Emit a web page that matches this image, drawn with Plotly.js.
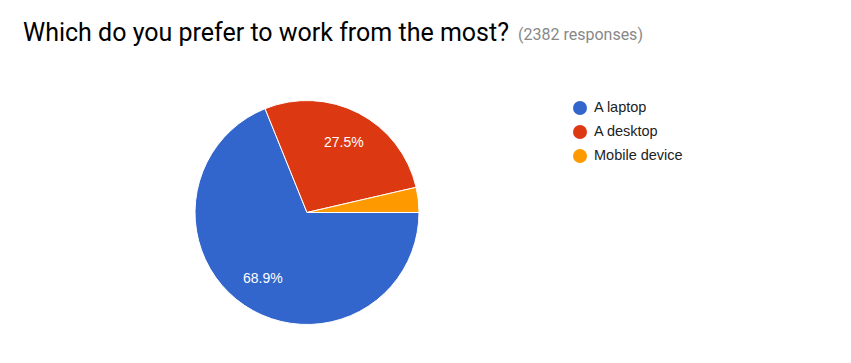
<!DOCTYPE html>
<html>
<head>
<meta charset="utf-8">
<script src="https://cdn.plot.ly/plotly-3.0.1.min.js"></script>
<style>
  html, body { margin: 0; padding: 0; background: #fff; }
  #chart { width: 851px; height: 363px; }
</style>
</head>
<body>
<div id="chart"></div>
<script>
// Survey answers: which device people prefer to work from
const categories = ['A laptop', 'A desktop', 'Mobile device'];
const responses = [1641, 655, 86];
const colors = ['#3366cc', '#dc3912', '#ff9900'];
const question = 'Which do you prefer to work from the most?';
const totalLabel = '(2382 responses)';

const W = 851, H = 363;
// Pie placement in pixels (centre and radius)
const CX = 307, CY = 212.5, R = 112;
// Slices below this share carry no percent label
const MIN_LABEL_SHARE = 0.05;

const total = responses.reduce((a, b) => a + b, 0);

const pie = {
  type: 'pie',
  labels: categories,
  values: responses,
  sort: false,
  direction: 'clockwise',
  rotation: 90,
  marker: { colors: colors, line: { color: '#ffffff', width: 1 } },
  textinfo: 'none',
  hoverinfo: 'label+percent',
  showlegend: false,
  domain: { x: [(CX - R) / W, (CX + R) / W], y: [(H - CY - R) / H, (H - CY + R) / H] }
};

// Percent labels placed along each slice's bisector (annotations sit above the pie)
const sliceLabels = [];
let start = 0;
responses.forEach(v => {
  const share = v / total;
  const mid = (start + share / 2) * 2 * Math.PI; // clockwise from 3 o'clock
  start += share;
  if (share < MIN_LABEL_SHARE) return;
  sliceLabels.push({
    xref: 'x', yref: 'y',
    x: CX + 0.71 * R * Math.cos(mid),
    y: CY + 0.71 * R * Math.sin(mid),
    text: (share * 100).toFixed(1) + '%',
    showarrow: false,
    xanchor: 'center', yanchor: 'middle',
    font: { family: 'Liberation Sans, Arial, sans-serif', size: 14, color: '#ffffff' }
  });
});

// Legend: round marker followed by the category name
const LEG_X = 580, LEG_Y = 108, LEG_STEP = 24;
const legendMarks = {
  type: 'scatter',
  mode: 'markers',
  x: categories.map(() => LEG_X),
  y: categories.map((_, i) => LEG_Y + i * LEG_STEP),
  marker: { color: colors, size: 14, symbol: 'circle' },
  hoverinfo: 'skip',
  showlegend: false,
  cliponaxis: false
};
const legendNames = {
  type: 'scatter',
  mode: 'text',
  x: categories.map(() => LEG_X + 14),
  y: categories.map((_, i) => LEG_Y + i * LEG_STEP),
  text: categories,
  textposition: 'middle right',
  textfont: { family: 'Liberation Sans, Arial, sans-serif', size: 14.5, color: '#222222' },
  hoverinfo: 'skip',
  showlegend: false,
  cliponaxis: false
};

const layout = {
  width: W,
  height: H,
  margin: { l: 0, r: 0, t: 0, b: 0 },
  paper_bgcolor: '#ffffff',
  plot_bgcolor: 'rgba(0,0,0,0)',
  xaxis: { visible: false, range: [0, W], fixedrange: true },
  yaxis: { visible: false, range: [H, 0], fixedrange: true },
  showlegend: false,
  annotations: [
    {
      text: question, xref: 'paper', yref: 'paper',
      x: 21 / W, y: 1 - 32 / H, xanchor: 'left', yanchor: 'middle',
      showarrow: false,
      font: { family: 'Roboto, sans-serif', size: 25, color: '#000000' }
    },
    {
      text: totalLabel, xref: 'paper', yref: 'paper',
      x: 516 / W, y: 1 - 34 / H, xanchor: 'left', yanchor: 'middle',
      showarrow: false,
      font: { family: 'Roboto, sans-serif', size: 16, color: '#888888' }
    }
  ].concat(sliceLabels)
};

Plotly.newPlot('chart', [pie, legendMarks, legendNames], layout,
  { displayModeBar: false, staticPlot: true });
</script>
</body>
</html>
